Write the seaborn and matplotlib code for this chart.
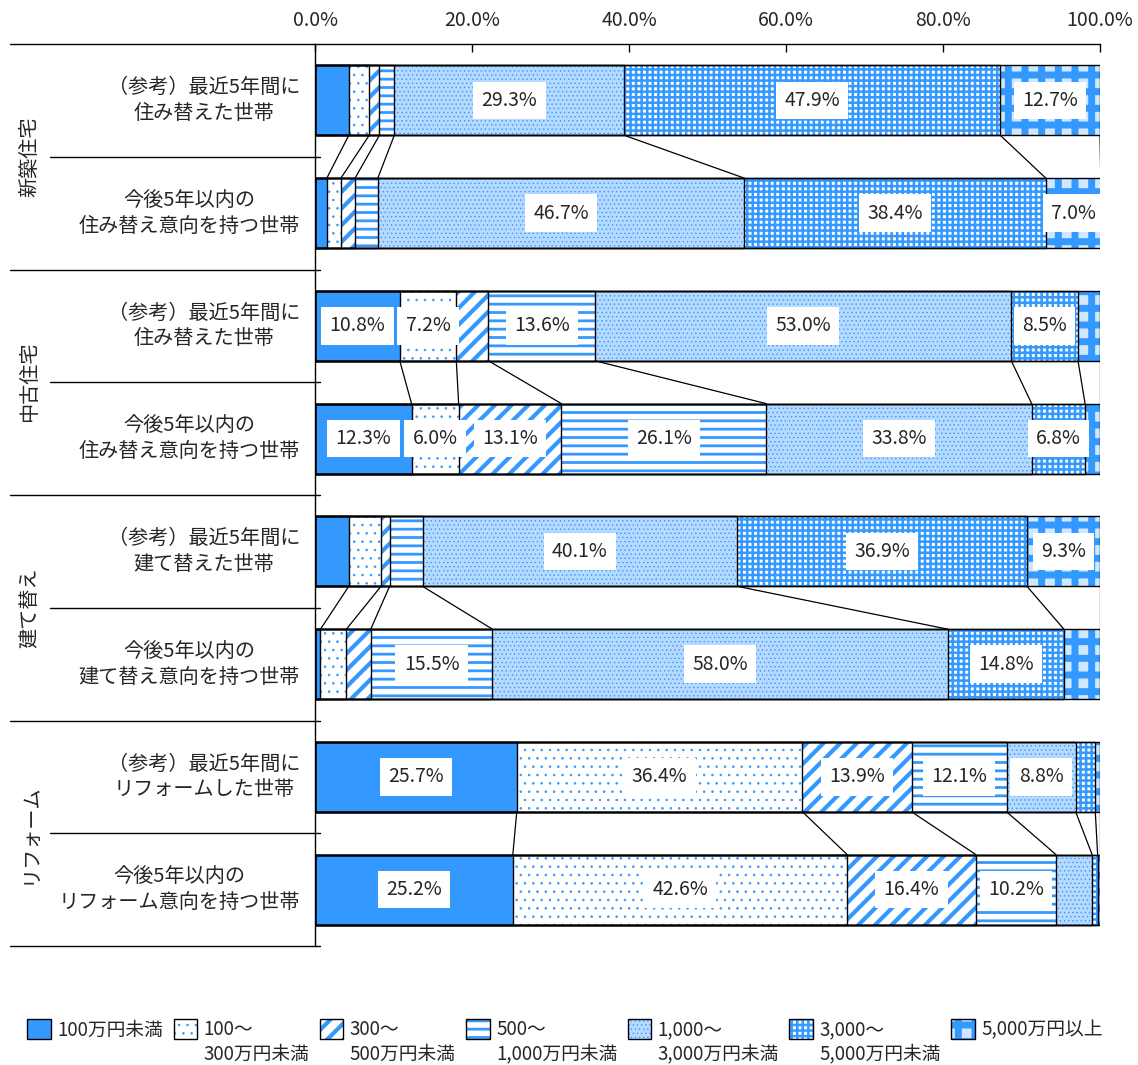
import matplotlib
matplotlib.use("Agg")
import matplotlib.pyplot as plt
import matplotlib.patches as mpatches
from matplotlib.legend_handler import HandlerTuple
import numpy as np
import pandas as pd
import seaborn as sns

sns.set_style("white")
plt.rcParams['font.family'] = ['Noto Sans CJK JP', 'DejaVu Sans']

# 行（上から順）
row_ids = ["新築_参考", "新築_今後", "中古_参考", "中古_今後",
           "建替_参考", "建替_今後", "リフォーム_参考", "リフォーム_今後"]
row_labels = ["（参考）最近5年間に\n住み替えた世帯", "今後5年以内の\n住み替え意向を持つ世帯",
              "（参考）最近5年間に\n住み替えた世帯", "今後5年以内の\n住み替え意向を持つ世帯",
              "（参考）最近5年間に\n建て替えた世帯", "今後5年以内の\n建て替え意向を持つ世帯",
              "（参考）最近5年間に\nリフォームした世帯", "今後5年以内の\nリフォーム意向を持つ世帯"]
groups = ["新築住宅", "中古住宅", "建て替え", "リフォーム"]

# 金額帯ごとの割合（%）
series_names = ["100万円未満", "100～\n300万円未満", "300～\n500万円未満", "500～\n1,000万円未満",
                "1,000～\n3,000万円未満", "3,000～\n5,000万円未満", "5,000万円以上"]
v_under100 = [4.3, 1.5, 10.8, 12.3, 4.3, 0.7, 25.7, 25.2]
v_100_300 = [2.6, 1.8, 7.2, 6.0, 4.1, 3.3, 36.4, 42.6]
v_300_500 = [1.3, 1.8, 4.1, 13.1, 1.1, 3.1, 13.9, 16.4]
v_500_1000 = [1.9, 2.9, 13.6, 26.1, 4.2, 15.5, 12.1, 10.2]
v_1000_3000 = [29.3, 46.7, 53.0, 33.8, 40.1, 58.0, 8.8, 4.6]
v_3000_5000 = [47.9, 38.4, 8.5, 6.8, 36.9, 14.8, 2.5, 0.7]
v_over5000 = [12.7, 7.0, 2.8, 1.9, 9.3, 4.6, 0.6, 0.3]
values = [v_under100, v_100_300, v_300_500, v_500_1000, v_1000_3000, v_3000_5000, v_over5000]

BLUE = "#3399ff"
styles = [
    dict(fc=BLUE, hatch=None, lw=1.0),
    dict(fc="white", hatch="..", lw=0.6),
    dict(fc="white", hatch="//", lw=3.0),
    dict(fc="white", hatch="--", lw=2.0),
    dict(fc="#b5d9ff", hatch="....", lw=0.5),
    dict(fc="white", hatch="+++", lw=1.8),
    dict(fc="#cfe7ff", hatch="+", lw=5.0),
]
hatch_lw = {st["hatch"]: st["lw"] for st in styles if st["hatch"]}

cum = np.cumsum(np.array(values), axis=0)  # (7, 8)
BAR_H = 0.62

fig = plt.figure(figsize=(11.38, 10.65), dpi=100)
ax = fig.add_axes([315 / 1138, 1 - 946 / 1065, 785 / 1138, 902 / 1065])

# 積み上げ：累積値を大きい方から順に描いて重ねる
for k in range(len(values) - 1, -1, -1):
    st = styles[k]
    plt.rcParams['hatch.linewidth'] = st["lw"]
    df = pd.DataFrame({"row": row_ids, "cum": cum[k]})
    sns.barplot(data=df, x="cum", y="row", order=row_ids, orient="h", ax=ax,
                width=BAR_H, facecolor=st["fc"], edgecolor=BLUE, linewidth=0,
                hatch=st["hatch"], saturation=1, errorbar=None)

# 枠線
for p in list(ax.patches):
    ax.add_patch(mpatches.Rectangle(p.get_xy(), p.get_width(), p.get_height(),
                                    fill=False, edgecolor="black", linewidth=1.0, zorder=3))

# 数値ラベル
for k, vals in enumerate(values):
    for i, v in enumerate(vals):
        if v >= 5:
            ax.text(cum[k][i] - v / 2, i, f"{v:.1f}%", ha="center", va="center",
                    fontsize=14, zorder=5,
                    bbox=dict(facecolor="white", edgecolor="none", pad=6))

# 上下の棒をつなぐ線
for g in range(4):
    top, bot = 2 * g, 2 * g + 1
    for k in range(len(values)):
        ax.plot([cum[k][top], cum[k][bot]], [top + BAR_H / 2, bot - BAR_H / 2],
                color="black", linewidth=0.9, zorder=4)

ax.set_xlim(0, 100)
ax.set_ylim(7.5, -0.5)
ax.xaxis.tick_top()
ax.set_xticks(np.arange(0, 101, 20))
ax.set_xticklabels([f"{t:.1f}%" for t in np.arange(0, 101, 20)], fontsize=14)
ax.tick_params(axis="x", direction="in", length=6, width=1, color="black", pad=9)
ax.set_yticks([])
ax.set_xlabel("")
ax.set_ylabel("")
for s in ["right", "bottom"]:
    ax.spines[s].set_visible(False)
for s in ["top", "left"]:
    ax.spines[s].set_color("black")
    ax.spines[s].set_linewidth(1.0)

# 左側の区切り線とラベル
trans = ax.get_yaxis_transform()
x_far = (10 - 315) / 785
x_near = (50 - 315) / 785
x_end = 5 / 785
for y in [-0.5, 1.5, 3.5, 5.5, 7.5]:
    ax.plot([x_far, x_end if y > -0.5 else 0], [y, y], color="black", linewidth=1.0,
            transform=trans, clip_on=False)
for y in [0.5, 2.5, 4.5, 6.5]:
    ax.plot([x_near, x_end], [y, y], color="black", linewidth=1.0,
            transform=trans, clip_on=False)
for i, lab in enumerate(row_labels):
    ax.text((300 - 315) / 785, i, lab, transform=trans, ha="right", va="center",
            multialignment="center", fontsize=14.5, linespacing=1.3)
for g, lab in enumerate(groups):
    ax.text((30 - 315) / 785, 2 * g + 0.5, lab, transform=trans, ha="center", va="center",
            rotation=90, fontsize=14.5)

# 凡例
handles = []
for st in styles:
    h1 = mpatches.Patch(facecolor=st["fc"], edgecolor=BLUE, linewidth=0, hatch=st["hatch"])
    h2 = mpatches.Patch(fill=False, edgecolor="black", linewidth=1.0)
    handles.append((h1, h2))
leg = fig.legend(handles, series_names, ncol=7, loc="upper left",
                 bbox_to_anchor=(18 / 1138, 1 - 1010 / 1065), frameon=False, fontsize=13.5,
                 handlelength=1.25, handleheight=1.25, handletextpad=0.35,
                 columnspacing=0.55, borderpad=0, labelspacing=0.2,
                 handler_map={tuple: HandlerTuple(ndivide=1, pad=0)})
leg._legend_handle_box.align = "top"
for col in leg._legend_handle_box.get_children():
    col.align = "left"
    for hp in col.get_children():
        hp.align = "top"
for p in leg.findobj(mpatches.Patch):
    h = p.get_hatch()
    if h in hatch_lw and hasattr(p, "set_hatch_linewidth"):
        p.set_hatch_linewidth(hatch_lw[h])

fig.savefig("out.png", dpi=100)
